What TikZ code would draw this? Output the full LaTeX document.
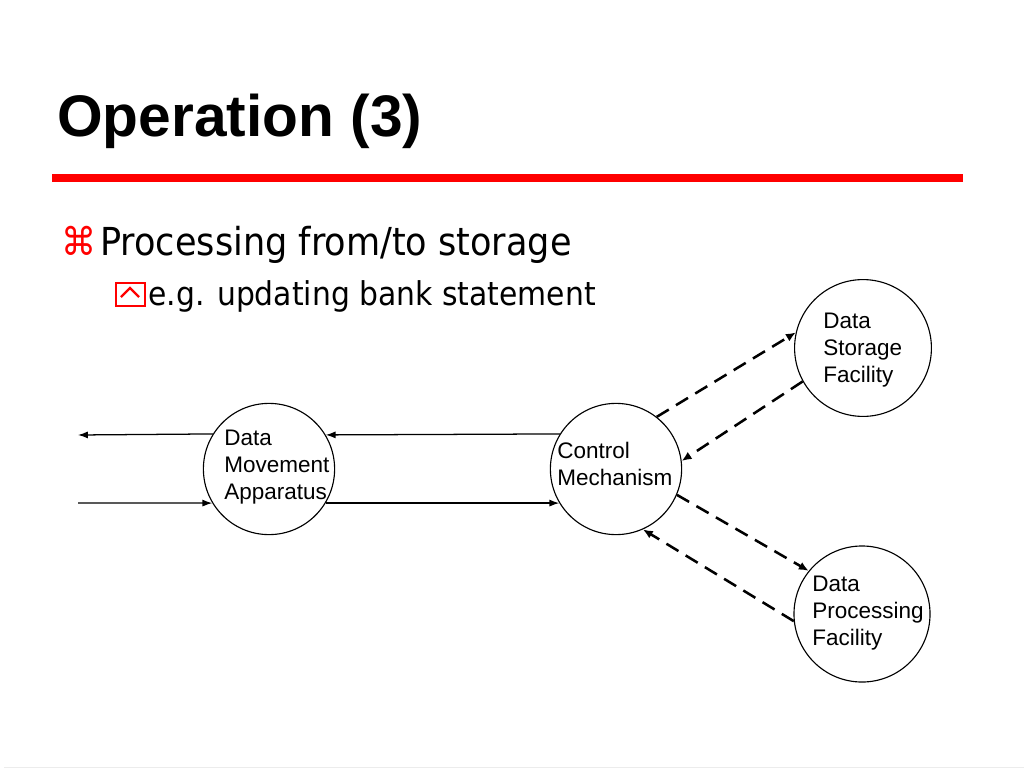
\documentclass[tikz,border=0pt]{standalone}
\usepackage{fontspec}
\setmainfont{Liberation Sans}
\newfontfamily\bulletfont[FakeStretch=0.91]{DejaVu Sans}
\usetikzlibrary{arrows.meta}
\definecolor{rulered}{RGB}{255,0,0}
\tikzset{
  blob/.style={circle,draw,line width=0.8pt,inner sep=0pt},
  blobtext/.style={anchor=west,inner sep=0pt,align=left,
    font=\fontsize{16}{19.4}\selectfont},
  flow/.style={line width=0.9pt,-{Latex[length=7pt,width=5pt]}},
  query/.style={line width=1.8pt,dash pattern=on 10pt off 6pt,-{Latex[length=7pt,width=6pt]}}
}
\begin{document}
\begin{tikzpicture}[x=0.025cm,y=-0.025cm]
	\useasboundingbox (0,0) rectangle (1024,768);
	%HEADING
	\node[anchor=base west,inner sep=0pt,font=\fontsize{41.7}{41.7}\selectfont\bfseries] (title) at (57,137) {Operation (3)};
	\draw[rulered,line width=5pt] (52,178) -- (963,178);
	\draw[gray!15,line width=0.7pt] (4,767) -- (1024,767);
	%BULLETS
	\node[anchor=base west,inner sep=0pt,text=rulered,font=\fontsize{27.4}{27.4}\bulletfont] (cmd) at (61,255) {⌘};
	\node[anchor=base west,inner sep=0pt,font=\fontsize{27.4}{27.4}\bulletfont] (line1) at (100,255) {Processing from/to storage};
	\draw[rulered,line width=1.6pt] (116,283) rectangle (145,306);
	\draw[rulered,line width=1.6pt] (121,297) -- (130,288) -- (139,297);
	\node[anchor=base west,inner sep=0pt,font=\fontsize{23.3}{23.3}\bulletfont] (line2) at (148,305) {e.g. updating bank statement};
	%CIRCLES
	\node[blob,minimum size=3.28cm] (dma) at (269,469) {};
	\node[blob,minimum size=3.28cm] (cm) at (616,469) {};
	\node[blob,minimum size=3.42cm] (dsf) at (863,348) {};
	\node[blob,minimum size=3.4cm] (dpf) at (862,614) {};
	\node[blobtext] (dmatext) at (224,467) {Data\\Movement\\Apparatus};
	\node[blobtext] (cmtext) at (557,464) {Control\\Mechanism};
	\node[blobtext] (dsftext) at (823,350) {Data\\Storage\\Facility};
	\node[blobtext] (dpftext) at (812,613) {Data\\Processing\\Facility};
	\coordinate (outL) at (78,435);
	\coordinate (inL) at (78,503);
	%SOLID FLOWS
	\draw[flow] (dma.148.5) -- (outL);
	\draw[flow] (inL) -- (dma.211.5);
	\draw[flow] (cm.148.5) -- (dma.31.5);
	\draw[flow] (dma.-31.5) -- (cm.211.5);
	%DASHED FLOWS
	\draw[query] (cm.52.8) -- (dsf.167.9);
	\draw[query] (dsf.209.8) -- (cm.7.5);
	\draw[query] (cm.-23.8) -- (dpf.141);
	\draw[query] (dpf.186.8) -- (cm.-66.9);
\end{tikzpicture}
\end{document}
